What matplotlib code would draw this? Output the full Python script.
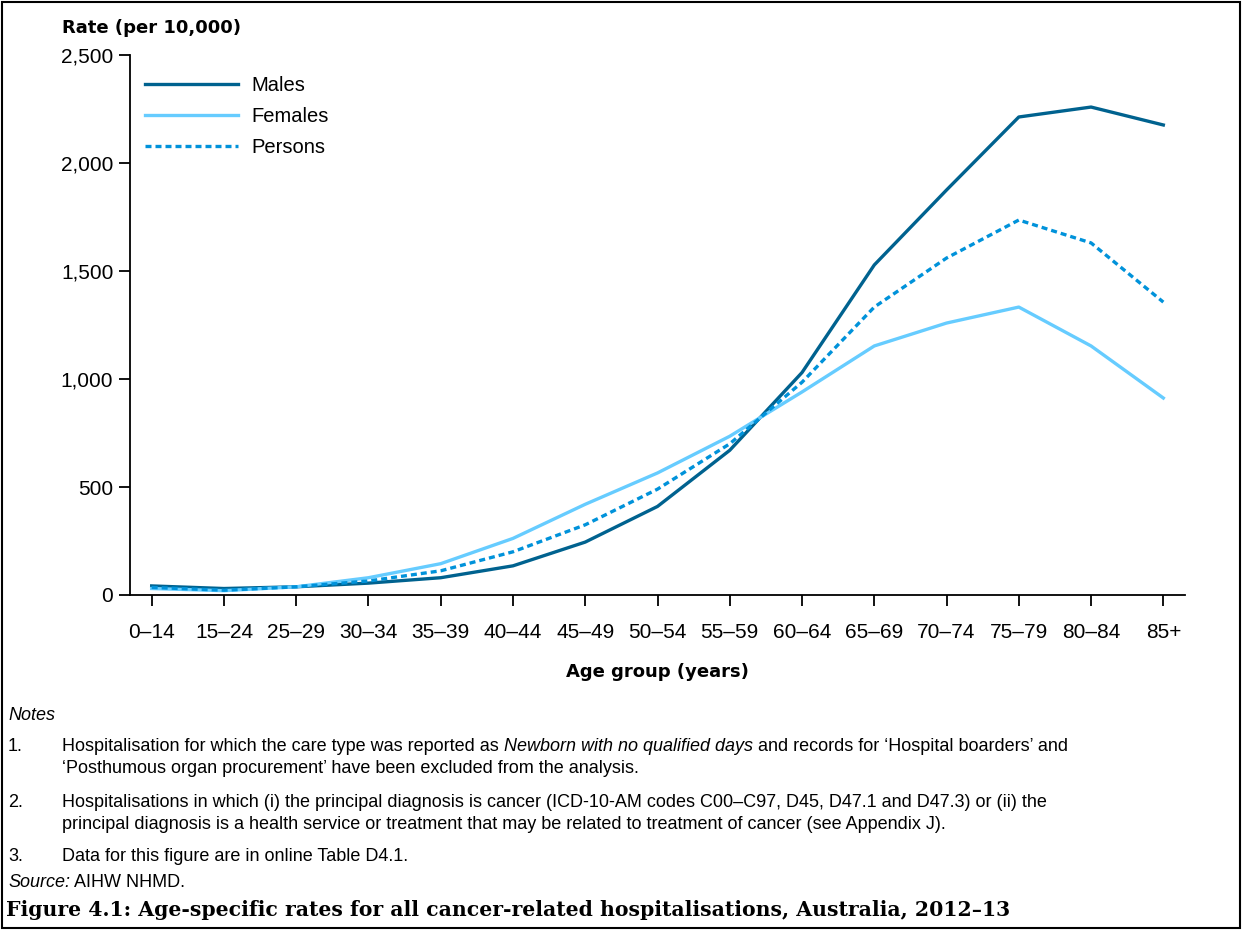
import numpy as np
import matplotlib.pyplot as plt
from matplotlib.patches import Rectangle

plt.rcParams['font.family'] = ['Liberation Sans', 'DejaVu Sans']

age_groups = ['0–14', '15–24', '25–29', '30–34', '35–39', '40–44', '45–49', '50–54',
              '55–59', '60–64', '65–69', '70–74', '75–79', '80–84', '85+']
males = [42, 30, 38, 55, 80, 135, 245, 410, 670, 1030, 1528, 1875, 2213, 2259, 2176]
females = [30, 20, 38, 80, 145, 262, 420, 565, 735, 940, 1153, 1259, 1333, 1153, 912]
persons = [35, 22, 38, 65, 112, 200, 325, 490, 700, 985, 1333, 1560, 1736, 1630, 1356]

yticks = [0, 500, 1000, 1500, 2000, 2500]

# each line is a list of (text, italic) pieces
notes = [
    ('1.', [[('Hospitalisation for which the care type was reported as ', False),
             ('Newborn with no qualified days', True),
             (' and records for \u2018Hospital boarders\u2019 and', False)],
            [('\u2018Posthumous organ procurement\u2019 have been excluded from the analysis.', False)]]),
    ('2.', [[('Hospitalisations in which (i) the principal diagnosis is cancer (ICD-10-AM codes '
              'C00\u2013C97, D45, D47.1 and D47.3) or (ii) the', False)],
            [('principal diagnosis is a health service or treatment that may be related to '
              'treatment of cancer (see Appendix J).', False)]]),
    ('3.', [[('Data for this figure are in online Table D4.1.', False)]]),
]

W, H = 1242, 934
fig = plt.figure(figsize=(W / 100, H / 100), dpi=100)
ax = fig.add_axes([130 / W, 1 - 595 / H, (1185 - 130) / W, (595 - 55) / H])

x = np.arange(len(age_groups))
ax.plot(x, males, color='#00628F', lw=2.4, label='Males')
ax.plot(x, females, color='#66CCFF', lw=2.4, label='Females')
ax.plot(x, persons, color='#0092DA', lw=2.4, ls=(0, (1.8, 1.2)), label='Persons')

ax.set_xlim(-0.3, len(age_groups) - 1 + 0.3)
ax.set_ylim(0, 2500)
ax.set_yticks(yticks)
ax.set_yticklabels([f'{v:,}' for v in yticks])
ax.set_xticks(x)
ax.set_xticklabels(age_groups)
ax.spines['top'].set_visible(False)
ax.spines['right'].set_visible(False)
ax.spines['left'].set_linewidth(1.3)
ax.spines['bottom'].set_linewidth(1.3)
ax.tick_params(axis='both', direction='out', length=8, width=1.3, labelsize=15)
ax.tick_params(axis='x', pad=12)
ax.tick_params(axis='y', pad=4)

leg = ax.legend(loc='upper left', bbox_to_anchor=(-0.003, 0.995), frameon=False, fontsize=14.5,
                handlelength=4.6, handletextpad=0.7, labelspacing=0.6)

fig.text(62 / W, 1 - 28 / H, 'Rate (per 10,000)', fontsize=13, fontweight='bold',
         family='DejaVu Sans', va='center')
fig.text(657 / W, 1 - 672 / H, 'Age group (years)', fontsize=13, fontweight='bold',
         family='DejaVu Sans', ha='center', va='center')

renderer = fig.canvas.get_renderer()
fs = 13


def put_line(x0, y0, pieces):
    # write pieces one after another on the same baseline
    xp = x0
    for txt, italic in pieces:
        t = fig.text(xp / W, 1 - y0 / H, txt, fontsize=fs, va='baseline',
                     style='italic' if italic else 'normal')
        xp += t.get_window_extent(renderer).width


fig.text(8 / W, 1 - 720 / H, 'Notes', fontsize=fs, style='italic', va='baseline')
ys = [751, 807, 861]
for (num, lines), yy in zip(notes, ys):
    fig.text(8 / W, 1 - yy / H, num, fontsize=fs, va='baseline')
    for i, line in enumerate(lines):
        put_line(62, yy + 22 * i, line)
put_line(8, 887, [('Source:', True), (' AIHW NHMD.', False)])
fig.text(6 / W, 1 - 910 / H, 'Figure 4.1: Age-specific rates for all cancer-related hospitalisations, Australia, 2012\u201313',
         fontsize=14.7, fontweight='bold', family='DejaVu Serif', va='center')

fig.patches.append(Rectangle((2 / W, 6 / H), 1 - 4 / W, 1 - 8 / H, transform=fig.transFigure,
                             fill=False, lw=1.5, ec='black'))

fig.savefig('out.png', dpi=100)
